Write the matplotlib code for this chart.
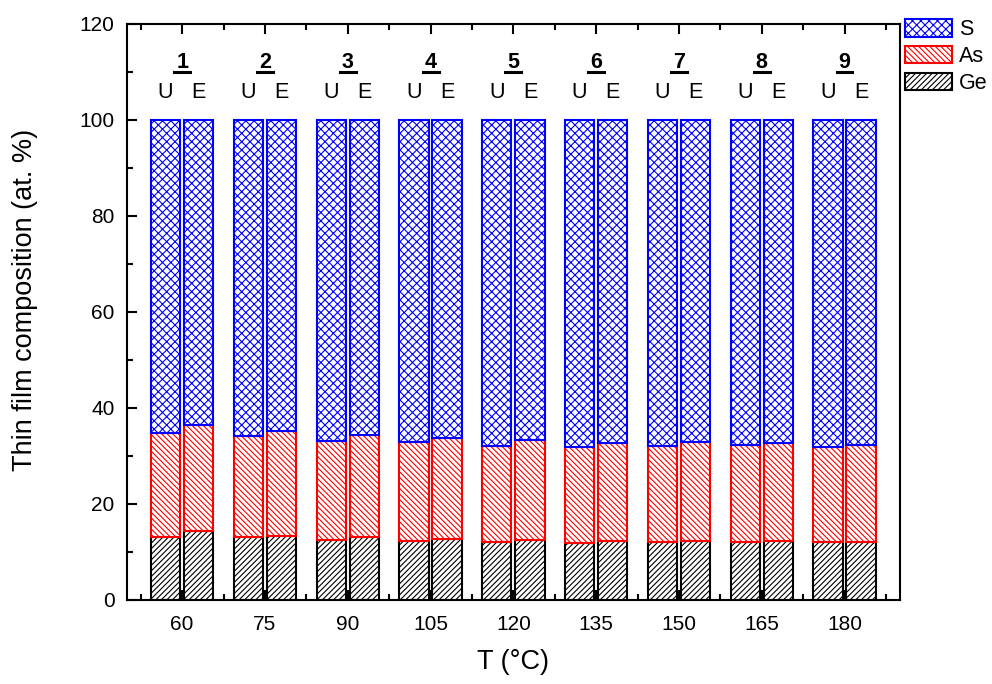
import numpy as np
import matplotlib.pyplot as plt
from matplotlib.patches import Patch
from matplotlib.lines import Line2D

plt.rcParams['font.family'] = ['Liberation Sans', 'DejaVu Sans']
plt.rcParams['hatch.linewidth'] = 0.8

## Donnees
T = np.array([60, 75, 90, 105, 120, 135, 150, 165, 180])
labels = ['1', '2', '3', '4', '5', '6', '7', '8', '9']

# U (non recuit)
Ge_U = np.array([13.2, 13.0, 12.4, 12.3, 12.1, 11.9, 12.1, 12.0, 12.0])
GeAs_U = np.array([34.7, 34.2, 33.0, 32.8, 32.1, 31.8, 32.1, 32.3, 31.9])
# E
Ge_E = np.array([14.4, 13.4, 13.0, 12.6, 12.4, 12.3, 12.3, 12.2, 12.1])
GeAs_E = np.array([36.4, 35.1, 34.4, 33.7, 33.3, 32.6, 32.8, 32.6, 32.2])

As_U = GeAs_U - Ge_U
As_E = GeAs_E - Ge_E
S_U = 100 - GeAs_U
S_E = 100 - GeAs_E

w = 5.3     # largeur barre
d = 3.0     # decalage U / E

fig = plt.figure(figsize=(9.92, 6.84), dpi=100)
ax = fig.add_axes([0.128, 0.123, 0.779, 0.842])

for x, ge, ars, s in [(T - d, Ge_U, As_U, S_U), (T + d, Ge_E, As_E, S_E)]:
    ax.bar(x, ge, w, color='white', edgecolor='black', hatch='//////', lw=1.5)
    ax.bar(x, ars, w, bottom=ge, color='white', edgecolor='#ff0000', hatch='\\\\\\\\\\\\', lw=1.5)
    ax.bar(x, s, w, bottom=ge + ars, color='white', edgecolor='#0000ff', hatch='xxxx', lw=1.5)

# legende (S, As, Ge)
h = [Patch(facecolor='white', edgecolor='#0000ff', hatch='xxxx', lw=1.5, label='S'),
     Patch(facecolor='white', edgecolor='#ff0000', hatch='\\\\\\\\\\\\', lw=1.5, label='As'),
     Patch(facecolor='white', edgecolor='black', hatch='//////', lw=1.5, label='Ge')]
ax.legend(handles=h, loc='upper left', bbox_to_anchor=(1.0065, 1.008), frameon=False,
          fontsize=15.5, handlelength=2.2, handleheight=0.85, handletextpad=0.3,
          labelspacing=0.27, borderaxespad=0.0, borderpad=0.0)

# numeros et U / E
nums = []
for t, lab in zip(T, labels):
    nums.append(ax.text(t, 112.0, lab, ha='center', va='center', fontsize=15.5, fontweight='bold'))
    ax.text(t - d, 105.8, 'U', ha='center', va='center', fontsize=15.5)
    ax.text(t + d, 105.8, 'E', ha='center', va='center', fontsize=15.5)

ax.set_xlim(50, 190)
ax.set_ylim(0, 120)
ax.set_xticks(T)
ax.set_xticks(np.arange(52.5, 190, 7.5), minor=True)
ax.set_yticks(np.arange(0, 121, 20))
ax.set_yticks(np.arange(10, 120, 20), minor=True)
ax.tick_params(which='both', direction='in', top=True, right=False, labelsize=15, width=1.5)
ax.tick_params(which='major', length=7)
ax.tick_params(which='minor', length=4)
ax.tick_params(axis='x', pad=11)
ax.tick_params(axis='y', pad=9)
for sp in ax.spines.values():
    sp.set_linewidth(1.5)

ax.set_xlabel('T (°C)', fontsize=19.5, labelpad=11)
ax.set_ylabel('Thin film composition (at. %)', fontsize=19.5)
ax.yaxis.set_label_coords(-0.115, 0.52)

# soulignement des numeros
fig.canvas.draw()
r = fig.canvas.get_renderer()
for tx in nums:
    bb = tx.get_window_extent(r)
    yl = bb.y0 + 1
    fig.add_artist(Line2D([bb.x0 - 2, bb.x1 + 2], [yl, yl], transform=None, color='black', lw=2.2))

plt.savefig('out.png', dpi=100)
